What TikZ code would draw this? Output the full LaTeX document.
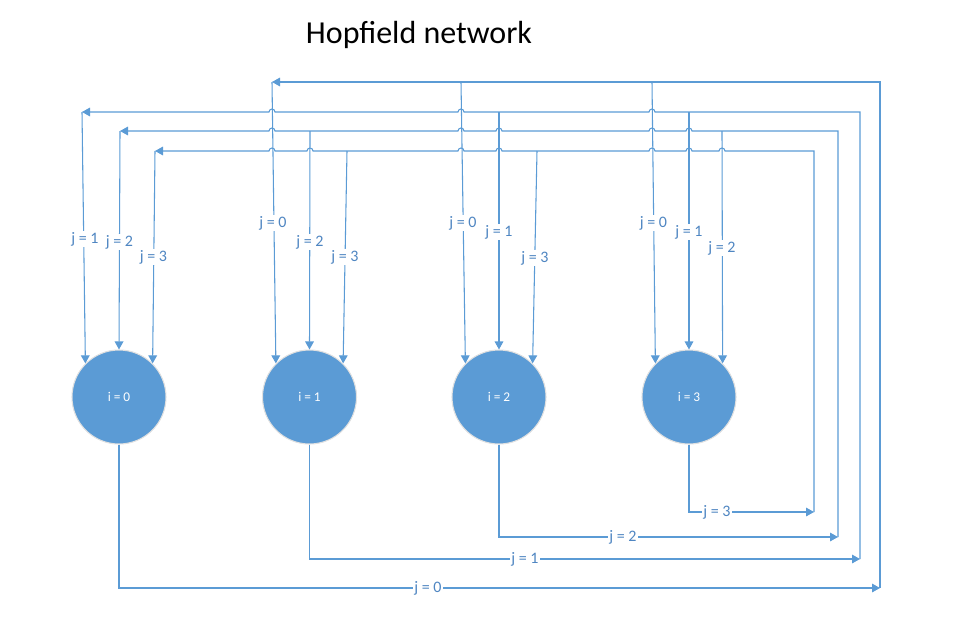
\documentclass[tikz,border=0pt]{standalone}
\usepackage{fontspec}
\setmainfont{Carlito}
\usetikzlibrary{arrows.meta}
\definecolor{netblue}{HTML}{5B9BD5}
\definecolor{labelblue}{HTML}{4F86C2}

\begin{document}
\begin{tikzpicture}[x=0.75pt,y=-0.75pt,>={Triangle[length=6pt,width=6.5pt]},
  wire/.style={draw=netblue,line width=0.8pt},
  neuron/.style={circle,fill=netblue,draw=black!12,line width=0.8pt,minimum size=70.5pt,inner sep=0pt,text=white,font=\fontsize{10}{12}\selectfont},
  wlabel/.style={fill=white,inner sep=1.2pt,text=labelblue,font=\fontsize{12}{14}\selectfont}]
\useasboundingbox (0,0) rectangle (957,625);
\node[font=\fontsize{24}{29}\selectfont] (title) at (419,35) {Hopfield network};
% neurons
\node[neuron] (n0) at (119,397) {i = 0};
\node[neuron] (n1) at (309.5,397) {i = 1};
\node[neuron] (n2) at (499,397) {i = 2};
\node[neuron] (n3) at (689,397) {i = 3};
% corners of the feedback loops
\coordinate (e0) at (880,588);
\coordinate (e1) at (860,559);
\coordinate (e2) at (838,537);
\coordinate (e3) at (814,512);
\coordinate (c0) at (880,82);
\coordinate (c1) at (860,112);
\coordinate (c2) at (838,131);
\coordinate (c3) at (814,151);
\coordinate (k0) at (272,82);
\coordinate (k1) at (82,112);
\coordinate (k2) at (120,131);
\coordinate (k3) at (155,151);
% taps on the top lines
\coordinate (s02) at (461,82);
\coordinate (s03) at (652,82);
\coordinate (s12) at (499,112);
\coordinate (s13) at (689,112);
\coordinate (s21) at (310,131);
\coordinate (s23) at (722,131);
\coordinate (s31) at (347,151);
\coordinate (s32) at (537,151);
% outputs
\draw[wire,->] (n0.south) |- (e0);
\draw[wire,->] (n1.south) |- (e1);
\draw[wire,->] (n2.south) |- (e2);
\draw[wire,->] (n3.south) |- (e3);
% back up and along the top, hopping over the taps
\draw[wire,->] (e0) -- (c0) -- (k0);
\draw[wire,->] (e1) -- (c1) -- (655,112) arc[start angle=0,end angle=-180,radius=3]
  -- (464,112) arc[start angle=0,end angle=-180,radius=3]
  -- (275,112) arc[start angle=0,end angle=-180,radius=3] -- (k1);
\draw[wire,->] (e2) -- (c2) -- (692,131) arc[start angle=0,end angle=-180,radius=3]
  -- (655,131) arc[start angle=0,end angle=-180,radius=3]
  -- (502,131) arc[start angle=0,end angle=-180,radius=3]
  -- (464,131) arc[start angle=0,end angle=-180,radius=3]
  -- (275,131) arc[start angle=0,end angle=-180,radius=3] -- (k2);
\draw[wire,->] (e3) -- (c3) -- (725,151) arc[start angle=0,end angle=-180,radius=3]
  -- (692,151) arc[start angle=0,end angle=-180,radius=3]
  -- (655,151) arc[start angle=0,end angle=-180,radius=3]
  -- (502,151) arc[start angle=0,end angle=-180,radius=3]
  -- (464,151) arc[start angle=0,end angle=-180,radius=3]
  -- (313,151) arc[start angle=0,end angle=-180,radius=3]
  -- (275,151) arc[start angle=0,end angle=-180,radius=3] -- (k3);
% down into the neurons
\draw[wire,->] (k1) -- (n0.135);
\draw[wire,->] (k2) -- (n0.north);
\draw[wire,->] (k3) -- (n0.45);
\draw[wire,->] (k0) -- (n1.135);
\draw[wire,->] (s21) -- (n1.north);
\draw[wire,->] (s31) -- (n1.45);
\draw[wire,->] (s02) -- (n2.135);
\draw[wire,->] (s12) -- (n2.north);
\draw[wire,->] (s32) -- (n2.45);
\draw[wire,->] (s03) -- (n3.135);
\draw[wire,->] (s13) -- (n3.north);
\draw[wire,->] (s23) -- (n3.45);
% labels
\node[wlabel] (l01) at (85,239) {j = 1};
\node[wlabel] (l02) at (119.5,242) {j = 2};
\node[wlabel] (l03) at (153.5,257) {j = 3};
\node[wlabel] (l10) at (273,223) {j = 0};
\node[wlabel] (l12) at (310,242) {j = 2};
\node[wlabel] (l13) at (345,257) {j = 3};
\node[wlabel] (l20) at (463,223) {j = 0};
\node[wlabel] (l21) at (499,232) {j = 1};
\node[wlabel] (l23) at (535,258) {j = 3};
\node[wlabel] (l30) at (653.5,223) {j = 0};
\node[wlabel] (l31) at (689,232) {j = 1};
\node[wlabel] (l32) at (722,248) {j = 2};
\node[wlabel] (b0) at (428,588) {j = 0};
\node[wlabel] (b1) at (525,559) {j = 1};
\node[wlabel] (b2) at (623,537) {j = 2};
\node[wlabel] (b3) at (717,512) {j = 3};
\end{tikzpicture}
\end{document}
